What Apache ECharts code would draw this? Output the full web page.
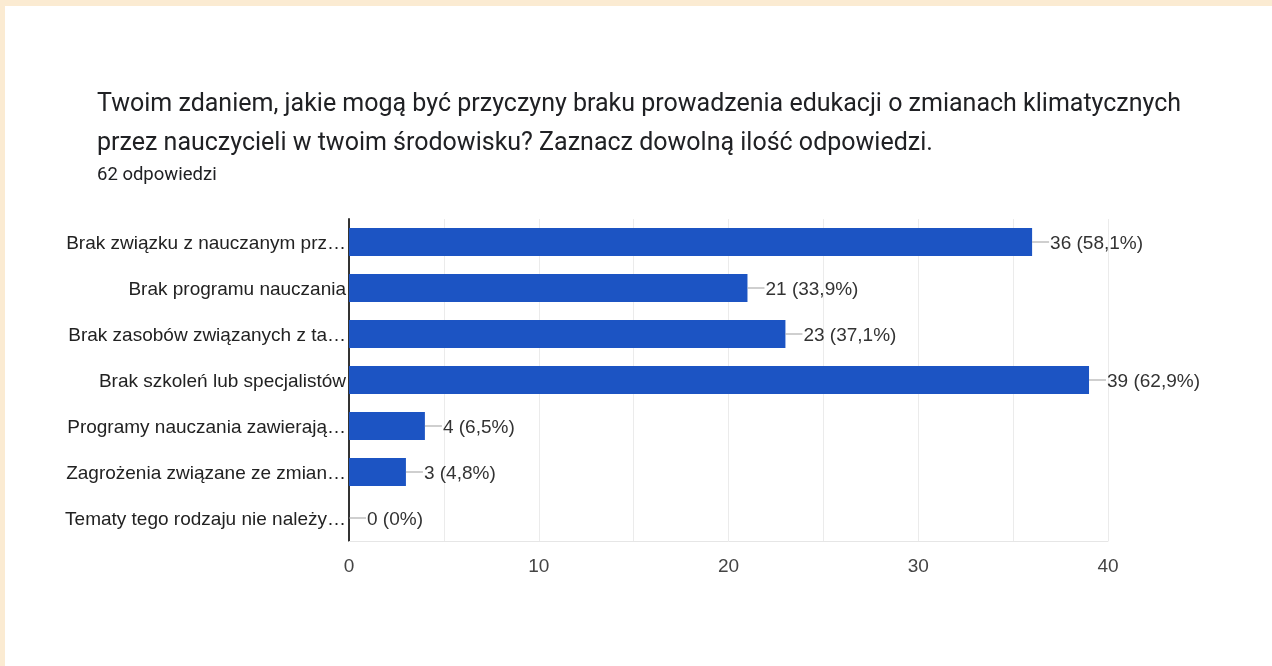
<!DOCTYPE html>
<html>
<head>
<meta charset="utf-8">
<script src="https://cdn.jsdelivr.net/npm/echarts@6/dist/echarts.min.js"></script>
<style>
html,body{margin:0;padding:0;width:1272px;height:666px;background:#fbebd2;overflow:hidden;}
#panel{position:absolute;left:5px;top:6px;width:1267px;height:660px;background:#ffffff;}
#chart{position:absolute;left:0;top:0;width:1272px;height:666px;}
</style>
</head>
<body>
<div id="panel"></div>
<div id="chart"></div>
<script>
const titleLines = [
  'Twoim zdaniem, jakie mogą być przyczyny braku prowadzenia edukacji o zmianach klimatycznych',
  'przez nauczycieli w twoim środowisku? Zaznacz dowolną ilość odpowiedzi.'
];
const subtitle = '62 odpowiedzi';
const categories = [
  'Brak związku z nauczanym prz…',
  'Brak programu nauczania',
  'Brak zasobów związanych z ta…',
  'Brak szkoleń lub specjalistów',
  'Programy nauczania zawierają…',
  'Zagrożenia związane ze zmian…',
  'Tematy tego rodzaju nie należy…'
];
const counts = [36, 21, 23, 39, 4, 3, 0];
const percents = ['58,1%', '33,9%', '37,1%', '62,9%', '6,5%', '4,8%', '0%'];
const xTicks = [0, 10, 20, 30, 40];

const chart = echarts.init(document.getElementById('chart'), null, {renderer: 'canvas'});
const option = {
  backgroundColor: 'transparent',
  animation: false,
  title: [
    {
      text: titleLines.join('\n'),
      left: 92, top: 80,
      textStyle: {fontFamily: 'Roboto', fontSize: 25, fontWeight: 'normal', color: '#202124', lineHeight: 39}
    },
    {
      text: subtitle,
      left: 92, top: 160,
      textStyle: {fontFamily: 'Roboto', fontSize: 18.5, fontWeight: 'normal', color: '#202124', lineHeight: 20}
    }
  ],
  grid: {left: 349, right: 164, top: 219, bottom: 125, containLabel: false},
  xAxis: {
    type: 'value', min: 0, max: 40, interval: 5,
    axisLine: {show: true, lineStyle: {color: '#e6e6e6', width: 1}},
    axisTick: {show: false},
    splitLine: {show: true, lineStyle: {color: '#ebebeb', width: 1}},
    axisLabel: {
      margin: 16, color: '#444', fontFamily: 'Liberation Sans', fontSize: 19,
      formatter: v => xTicks.indexOf(v) >= 0 ? String(v) : ''
    }
  },
  yAxis: {
    type: 'category', inverse: true, data: categories,
    axisLine: {show: true, lineStyle: {color: '#333', width: 2}},
    axisTick: {show: false},
    axisLabel: {
      margin: 3,
      formatter: v => '{a|' + v + '}',
      rich: {a: {color: '#222', fontFamily: 'Liberation Sans', fontSize: 19, padding: [4, 0, 0, 0]}}
    }
  },
  series: [{
    type: 'bar',
    data: counts,
    barCategoryGap: '39%',
    itemStyle: {color: '#1c54c3'},
    label: {
      show: true, position: 'right', distance: 0,
      formatter: p => '{l|}{t|' + counts[p.dataIndex] + ' (' + percents[p.dataIndex] + ')}',
      rich: {
        l: {width: 17, height: 1, backgroundColor: '#9e9e9e'},
        t: {color: '#333', fontFamily: 'Liberation Sans', fontSize: 19, padding: [4, 0, 0, 1]}
      }
    }
  }]
};
chart.setOption(option);
</script>
</body>
</html>
